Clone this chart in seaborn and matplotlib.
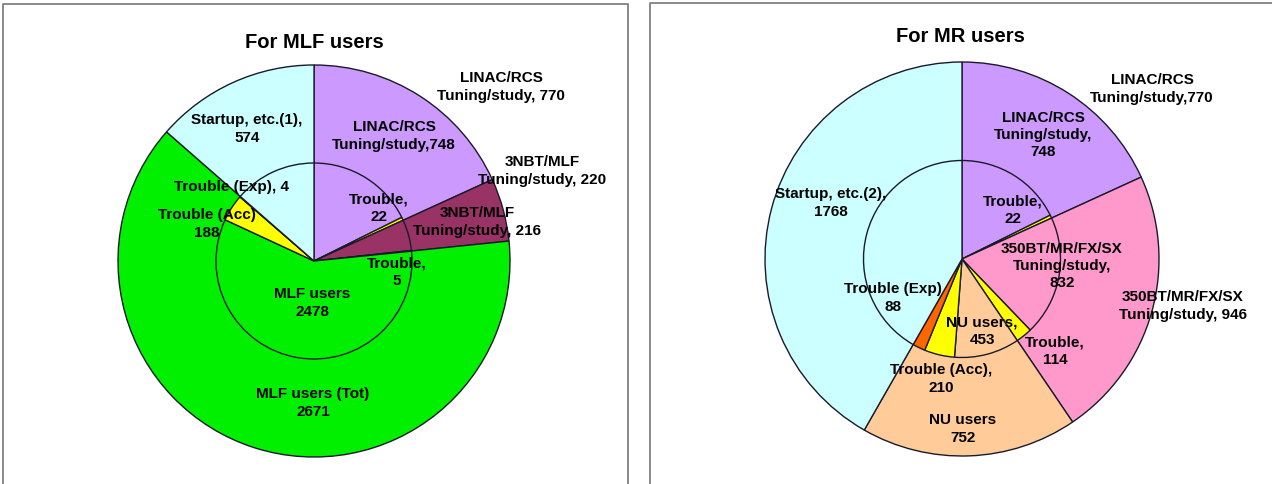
import matplotlib
matplotlib.use("Agg")
import matplotlib.pyplot as plt
import seaborn as sns

sns.set_theme(style="white")
plt.rcParams["font.family"] = ["Liberation Sans", "DejaVu Sans"]

# ---------------- data ----------------
# MLF panel: outer ring = totals, inner disc = breakdown incl. trouble time
mlf_outer_names = ["LINAC/RCS\nTuning/study, {}", "3NBT/MLF\nTuning/study, {}",
                   "MLF users (Tot)\n{}", "Startup, etc.(1),\n{}"]
mlf_outer_values = [770, 220, 2671, 574]
mlf_inner_names = ["LINAC/RCS\nTuning/study,{}", "Trouble,\n{}", "3NBT/MLF\nTuning/study, {}",
                   "Trouble,\n{}", "MLF users\n{}", "Trouble (Acc)\n{}", "Trouble (Exp), {}", None]
mlf_inner_values = [748, 22, 216, 5, 2478, 188, 4, 574]

# MR panel
mr_outer_names = ["LINAC/RCS\nTuning/study,{}", "350BT/MR/FX/SX\nTuning/study, {}",
                  "NU users\n{}", "Startup, etc.(2),\n{}"]
mr_outer_values = [770, 946, 752, 1768]
mr_inner_names = ["LINAC/RCS\nTuning/study,\n{}", "Trouble,\n{}", "350BT/MR/FX/SX\nTuning/study,\n{}",
                  "Trouble,\n{}", "NU users,\n{}", "Trouble (Acc),\n{}", "Trouble (Exp)\n{}", None]
mr_inner_values = [748, 22, 832, 114, 453, 210, 88, 1768]

# ---------------- styling ----------------
PURPLE, MAROON, GREEN, CYAN = "#CC99FF", "#993366", "#00F000", "#CCFFFF"
PINK, PEACH, YELLOW, ORANGE = "#FF99CC", "#FFCC99", "#FFFF00", "#FF6600"
EDGE = "#1A1A2A"

mlf_outer_colors = [PURPLE, MAROON, GREEN, CYAN]
mlf_inner_colors = [PURPLE, YELLOW, MAROON, YELLOW, GREEN, YELLOW, ORANGE, CYAN]
mr_outer_colors = [PURPLE, PINK, PEACH, CYAN]
mr_inner_colors = [PURPLE, YELLOW, PINK, YELLOW, PEACH, YELLOW, ORANGE, CYAN]

W, H = 1272, 484
fig = plt.figure(figsize=(W / 100, H / 100), dpi=100)
ax = fig.add_axes([0, 0, 1, 1])


def Y(y):
    return H - y


# label anchor points (pixel space, origin top-left)
mlf_outer_pos = [(501, 87), (542, 171), (313, 403), (247, 129)]
mlf_inner_pos = [(394, 136), (379, 208), (477, 222), (397, 272), (312, 303), (207, 224), (232, 187), None]
mr_outer_pos = [(1152, 89), (1183, 306), (963, 429), (831, 203)]
mr_inner_pos = [(1043, 135), (1013, 210), (1062, 266), (1055, 351), (982, 331), (941, 379), (893, 298), None]

FS = 11
LS = 1.28


def draw_panel(center, R, outer_vals, outer_cols, outer_names, outer_pos,
               inner_vals, inner_cols, inner_names, inner_pos, title, title_pos):
    cx, cy = center
    wp = dict(edgecolor=EDGE, linewidth=1.0)
    ax.pie(outer_vals, colors=outer_cols, startangle=90, counterclock=False,
           center=(cx, Y(cy)), radius=R, wedgeprops=wp, frame=True)
    ax.pie(inner_vals, colors=inner_cols, startangle=90, counterclock=False,
           center=(cx, Y(cy)), radius=R * 0.5, wedgeprops=wp, frame=True)
    for name, val, pos in zip(outer_names, outer_vals, outer_pos):
        ax.text(pos[0], Y(pos[1]), name.format(val), ha="center", va="center",
                fontsize=FS, fontweight="bold", color="black", linespacing=LS)
    for name, val, pos in zip(inner_names, inner_vals, inner_pos):
        if name is None:
            continue
        ax.text(pos[0], Y(pos[1]), name.format(val), ha="center", va="center",
                fontsize=FS, fontweight="bold", color="black", linespacing=LS)
    ax.text(title_pos[0], Y(title_pos[1]), title, ha="center", va="center",
            fontsize=14.5, fontweight="bold", color="black")


draw_panel((314, 261), 196, mlf_outer_values, mlf_outer_colors, mlf_outer_names, mlf_outer_pos,
           mlf_inner_values, mlf_inner_colors, mlf_inner_names, mlf_inner_pos,
           "For MLF users", (314, 42))
draw_panel((962, 259), 197, mr_outer_values, mr_outer_colors, mr_outer_names, mr_outer_pos,
           mr_inner_values, mr_inner_colors, mr_inner_names, mr_inner_pos,
           "For MR users", (960, 37))

# panel frames
frame_kw = dict(color="#808080", linewidth=1.3, solid_capstyle="butt")
ax.plot([3, 3, 628, 628], [Y(484), Y(4), Y(4), Y(484)], **frame_kw)
ax.plot([650, 650, 1272], [Y(484), Y(3), Y(3)], **frame_kw)

ax.set_xlim(0, W)
ax.set_ylim(0, H)
ax.set_aspect("auto")
ax.axis("off")

fig.savefig("out.png", dpi=100, facecolor="white")
